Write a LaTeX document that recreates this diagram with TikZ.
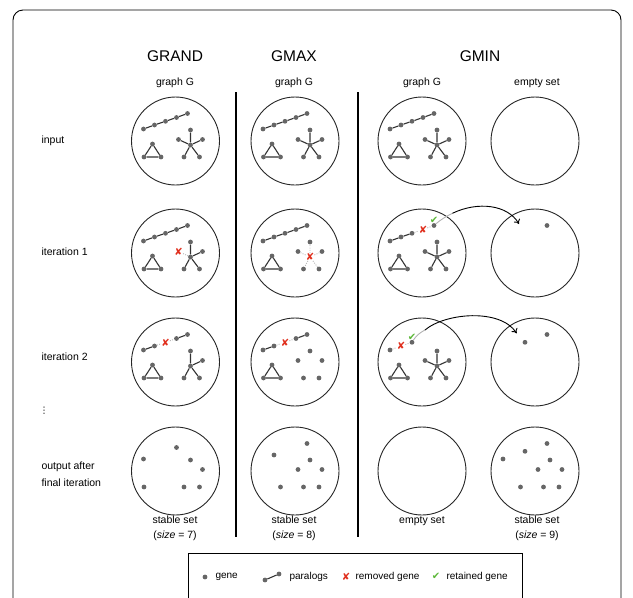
\documentclass[tikz,border=0pt]{standalone}
\usepackage{fontspec}
\setmainfont{Liberation Sans}
\newfontfamily\symfont{DejaVu Sans}
\usetikzlibrary{arrows.meta}

\definecolor{genecol}{HTML}{666666}
\definecolor{edgecol}{HTML}{333333}
\definecolor{xred}{HTML}{E0301E}
\definecolor{okgreen}{HTML}{5DB83A}

\tikzset{
  gene/.style={circle, fill=genecol, inner sep=0pt, minimum size=4.8pt},
  para/.style={draw=edgecol, line width=1.1pt},
  gone/.style={draw=gray!55, dash pattern=on 1pt off 1.3pt, line width=0.9pt},
  ring/.style={circle, draw=black!85, line width=0.9pt, minimum size=88pt, inner sep=0pt},
  removed/.style={text=xred, font=\symfont\fontsize{10}{10}\selectfont, inner sep=0pt},
  kept/.style={text=okgreen, font=\symfont\fontsize{10}{10}\selectfont, inner sep=0pt},
  title/.style={font=\fontsize{15.5}{15.5}\selectfont},
  lab/.style={font=\fontsize{10.5}{15}\selectfont},
  leg/.style={font=\fontsize{10}{12}\selectfont, anchor=west},
  rowlab/.style={font=\fontsize{10.5}{17}\selectfont, anchor=west, align=left},
  sep/.style={draw=black, line width=1.2pt},
  flow/.style={draw=black, line width=0.9pt},
  flowfade/.style={draw=gray!60, line width=0.9pt},
}

% gene positions relative to a circle centre
\newcommand\mkpos[3]{%
  \begin{scope}[shift={(#2,#3)}]
    \coordinate (#1-c1) at (-32,-12);
    \coordinate (#1-c2) at (-21,-16);
    \coordinate (#1-c3) at (-10,-19.7);
    \coordinate (#1-c4) at (1,-23.5);
    \coordinate (#1-c5) at (12,-27.5);
    \coordinate (#1-t1) at (-23,3);
    \coordinate (#1-t2) at (-31.5,16);
    \coordinate (#1-t3) at (-14.5,16);
    \coordinate (#1-s0) at (15,4);
    \coordinate (#1-s1) at (15,-11);
    \coordinate (#1-s2) at (3,-1.5);
    \coordinate (#1-s3) at (27,-1.5);
    \coordinate (#1-s4) at (8.5,16);
    \coordinate (#1-s5) at (24,16);
  \end{scope}}
\newcommand\G[2]{\node[gene] (#1#2) at (#1-#2) {};}
\newcommand\Xat[2]{\node[removed] (#1x) at (#1-#2) {✘};}
\newcommand\fullchain[1]{\G{#1}{c1}\G{#1}{c2}\G{#1}{c3}\G{#1}{c4}\G{#1}{c5}%
  \draw[para] (#1c1) -- (#1c2) -- (#1c3) -- (#1c4) -- (#1c5);}
\newcommand\tri[1]{\G{#1}{t1}\G{#1}{t2}\G{#1}{t3}%
  \draw[para] (#1t1) -- (#1t2) -- (#1t3) -- (#1t1);}
\newcommand\fullstar[1]{\G{#1}{s0}\G{#1}{s1}\G{#1}{s2}\G{#1}{s3}\G{#1}{s4}\G{#1}{s5}%
  \draw[para] (#1s0) -- (#1s1) (#1s0) -- (#1s2) (#1s0) -- (#1s3) (#1s0) -- (#1s4) (#1s0) -- (#1s5);}

\begin{document}
\begin{tikzpicture}[x=1pt,y=-1pt]
\useasboundingbox (0,0) rectangle (633,598);
\begin{scope}
\clip (0,0) rectangle (633,598);
\draw[black, line width=0.9pt, rounded corners=10pt] (13,10) rectangle (621,640);
\end{scope}

% column titles
\node[title] (tA) at (175,56) {GRAND};
\node[title] (tB) at (294,56) {GMAX};
\node[title] (tC) at (480,56) {GMIN};
\node[lab] (sA) at (175,83) {graph G};
\node[lab] (sB) at (294,83) {graph G};
\node[lab] (sC) at (422,83) {graph G};
\node[lab] (sD) at (537,83) {empty set};

% row labels
\node[rowlab] (r1) at (38,141) {input};
\node[rowlab] (r2) at (38,252) {iteration 1};
\node[rowlab] (r3) at (38,357) {iteration 2};
\node[font=\symfont\fontsize{9}{9}\selectfont, inner sep=0pt] (rdots) at (44,411) {⋮};
\node[rowlab] (r4) at (38,474) {output after\\final iteration};

% separators
\coordinate (v1a) at (236,92); \coordinate (v1b) at (236,537);
\coordinate (v2a) at (358,92); \coordinate (v2b) at (358,537);
\draw[sep] (v1a) -- (v1b);
\draw[sep] (v2a) -- (v2b);

% circles
\foreach \c/\x in {A/175.5,B/295,C/422,D/535}{
  \foreach \r/\y in {1/141,2/253,3/362,4/471}{
    \node[ring] (\c\r) at (\x,\y) {};
    \mkpos{\c\r}{\x}{\y}
  }
}

% ---- input row
\fullchain{A1}\tri{A1}\fullstar{A1}
\fullchain{B1}\tri{B1}\fullstar{B1}
\fullchain{C1}\tri{C1}\fullstar{C1}

% ---- iteration 1
% GRAND
\fullchain{A2}\tri{A2}
\G{A2}{s0}\G{A2}{s1}\G{A2}{s3}\G{A2}{s4}\G{A2}{s5}
\draw[para] (A2s0) -- (A2s1) (A2s0) -- (A2s3) (A2s0) -- (A2s4) (A2s0) -- (A2s5);
\Xat{A2}{s2}
\draw[gone] (A2s0) -- (A2x);
% GMAX
\fullchain{B2}\tri{B2}
\G{B2}{s1}\G{B2}{s2}\G{B2}{s3}\G{B2}{s4}\G{B2}{s5}
\Xat{B2}{s0}
\draw[gone] (B2x) -- (B2s1) (B2x) -- (B2s2) (B2x) -- (B2s3) (B2x) -- (B2s4) (B2x) -- (B2s5);
% GMIN
\G{C2}{c1}\G{C2}{c2}\G{C2}{c3}\G{C2}{c5}
\draw[para] (C2c1) -- (C2c2) -- (C2c3);
\Xat{C2}{c4}
\draw[gone] (C2c3) -- (C2x) -- (C2c5);
\tri{C2}\fullstar{C2}
\node[kept, anchor=south] (C2k) at ([yshift=-0.5pt]C2c5.north) {✔};
\G{D2}{c5}
\coordinate (C2m) at (452.4,213.3);
\coordinate (C2e) at (519,224);
\draw[flowfade] (C2c5) .. controls (439.8,220.4) and (445.9,216.3) .. (C2m);
\draw[flow, -{To[length=4.5pt,width=7pt]}] (C2m) .. controls (478,201) and (507.8,204.8) .. (C2e);

% ---- iteration 2
% GRAND
\G{A3}{c1}\G{A3}{c2}\G{A3}{c4}\G{A3}{c5}
\draw[para] (A3c1) -- (A3c2) (A3c4) -- (A3c5);
\Xat{A3}{c3}
\draw[gone] (A3c2) -- (A3x) -- (A3c4);
\tri{A3}
\G{A3}{s0}\G{A3}{s1}\G{A3}{s3}\G{A3}{s4}\G{A3}{s5}
\draw[para] (A3s0) -- (A3s1) (A3s0) -- (A3s3) (A3s0) -- (A3s4) (A3s0) -- (A3s5);
% GMAX
\G{B3}{c1}\G{B3}{c2}\G{B3}{c4}\G{B3}{c5}
\draw[para] (B3c1) -- (B3c2) (B3c4) -- (B3c5);
\Xat{B3}{c3}
\draw[gone] (B3c2) -- (B3x) -- (B3c4);
\tri{B3}
\G{B3}{s1}\G{B3}{s2}\G{B3}{s3}\G{B3}{s4}\G{B3}{s5}
% GMIN
\G{C3}{c1}\G{C3}{c3}
\Xat{C3}{c2}
\draw[gone] (C3c1) -- (C3x) -- (C3c3);
\tri{C3}\fullstar{C3}
\node[kept, anchor=south] (C3k) at ([yshift=-0.5pt]C3c3.north) {✔};
\G{D3}{c3}\G{D3}{c5}
\coordinate (C3m) at (425,330);
\coordinate (C3e) at (516.7,333.3);
\draw[flowfade] (C3c3) .. controls (416,336) and (420,332.5) .. (C3m);
\draw[flow, -{To[length=4.5pt,width=7pt]}] (C3m) .. controls (445,313) and (500,308) .. (C3e);

% ---- output row
\G{A4}{c1}\G{A4}{c4}\G{A4}{s1}\G{A4}{s3}\G{A4}{t2}\G{A4}{s4}\G{A4}{s5}
\G{B4}{c2}\G{B4}{c5}\G{B4}{s1}\G{B4}{s2}\G{B4}{s3}\G{B4}{t3}\G{B4}{s4}\G{B4}{s5}
\G{D4}{c1}\G{D4}{c3}\G{D4}{c5}\G{D4}{s1}\G{D4}{s2}\G{D4}{s3}\G{D4}{t3}\G{D4}{s4}\G{D4}{s5}

% bottom labels
\node[lab, align=center] (bA) at (175,528.5) {stable set\\(\textit{size} = 7)};
\node[lab, align=center] (bB) at (294,528.5) {stable set\\(\textit{size} = 8)};
\node[lab] (bC) at (422,521) {empty set};
\node[lab, align=center] (bD) at (537,528.5) {stable set\\(\textit{size} = 9)};

% legend
\begin{scope}
\clip (0,0) rectangle (633,598);
\draw[black, line width=0.9pt] (188,553) rectangle (522,610);
\end{scope}
\node[gene] (lg) at (205,577) {};
\node[leg] (lgt) at (212,577) {gene};
\node[gene] (lp1) at (265,580) {};
\node[gene] (lp2) at (279,574) {};
\draw[para] (lp1) -- (lp2);
\node[leg] (lpt) at (286,577) {paralogs};
\node[removed] (lx) at (346,577) {✘};
\node[leg] (lxt) at (352,577) {removed gene};
\node[kept] (lk) at (436,576) {✔};
\node[leg] (lkt) at (443,577) {retained gene};
\end{tikzpicture}
\end{document}
